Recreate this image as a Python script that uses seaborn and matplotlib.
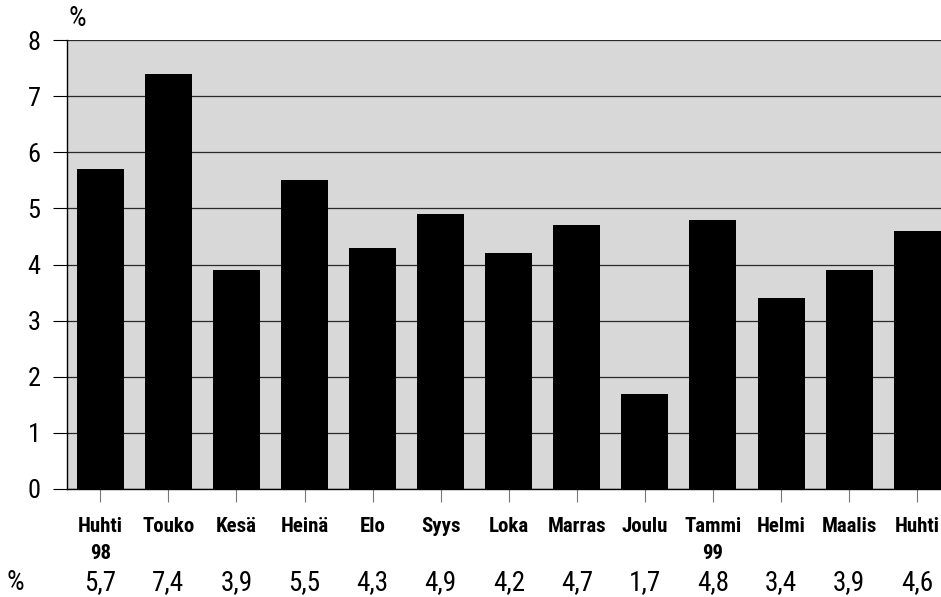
import matplotlib
matplotlib.use("Agg")
import matplotlib.pyplot as plt
from matplotlib import font_manager
import matplotlib.transforms as mtransforms
import seaborn as sns
import pandas as pd

months = ["Huhti\n98", "Touko", "Kesä", "Heinä", "Elo", "Syys", "Loka",
          "Marras", "Joulu", "Tammi\n99", "Helmi", "Maalis", "Huhti"]
values = [5.7, 7.4, 3.9, 5.5, 4.3, 4.9, 4.2, 4.7, 1.7, 4.8, 3.4, 3.9, 4.6]
value_labels = ["5,7", "7,4", "3,9", "5,5", "4,3", "4,9", "4,2",
                "4,7", "1,7", "4,8", "3,4", "3,9", "4,6"]
yticks = [0, 1, 2, 3, 4, 5, 6, 7, 8]

sns.set_theme(style="white")
names = {f.name for f in font_manager.fontManager.ttflist}
if "Liberation Sans Narrow" in names:
    family = "Liberation Sans Narrow"
elif "Roboto Condensed" in names:
    family = "Roboto Condensed"
else:
    family = "DejaVu Sans"
plt.rcParams["font.family"] = [family, "DejaVu Sans"]
plt.rcParams["text.color"] = "black"

df = pd.DataFrame({"month": range(len(months)), "value": values})

fig = plt.figure(figsize=(9.41, 5.97), dpi=100)
ax = fig.add_axes([67 / 941, 1 - 489 / 597, 1 - 67 / 941, 449 / 597])
ax.set_facecolor("#d8d8d8")

sns.barplot(data=df, x="month", y="value", color="black", width=0.69,
            saturation=1, ax=ax, zorder=3, edgecolor="black", linewidth=0)

ax.set_ylim(0, 8)
ax.set_xlim(-0.49, 12.35)
ax.set_yticks(yticks)
ax.set_yticklabels([str(t) for t in yticks], fontsize=19)
ax.set_xticks(range(len(months)))
ax.set_xticklabels(months, fontsize=15, fontweight="bold", linespacing=1.55,
                   va="top")
ax.tick_params(axis="y", length=10, width=0.8, color="black", pad=9, left=True,
               labelcolor="black")
ax.tick_params(axis="x", length=9, width=0.8, color="#777777", pad=11,
               bottom=True, labelcolor="black")
ax.yaxis.grid(True, color="#2a2a2a", linewidth=0.9, zorder=1)
ax.set_axisbelow(True)
ax.set_xlabel("")
ax.set_ylabel("")
for side in ["top", "right"]:
    ax.spines[side].set_visible(False)
for side in ["left", "bottom"]:
    ax.spines[side].set_color("black")
    ax.spines[side].set_linewidth(1.0)

trans = mtransforms.blended_transform_factory(ax.transData, ax.transAxes)
for i, lab in enumerate(value_labels):
    ax.text(i, -0.209, lab, transform=trans, ha="center", va="center",
            fontsize=19.5, color="black")

fig.text(15 / 941, 1 - 583 / 597, "%", ha="center", va="center", fontsize=20)
fig.text(77 / 941, 1 - 18 / 597, "%", ha="center", va="center", fontsize=20)

fig.savefig("out.png", dpi=100)
